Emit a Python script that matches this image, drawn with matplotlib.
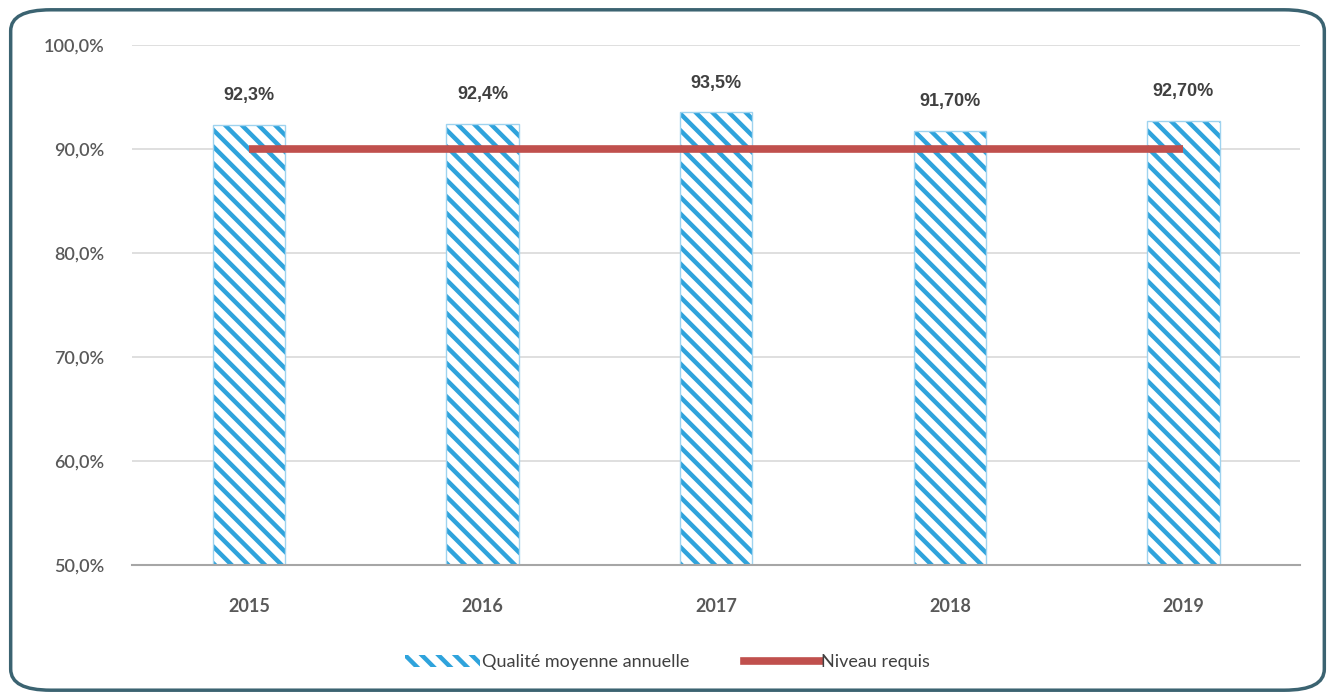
import matplotlib
matplotlib.use("Agg")
import matplotlib.pyplot as plt
from matplotlib.patches import FancyBboxPatch, Patch
from matplotlib.lines import Line2D
from matplotlib.ticker import FuncFormatter

# -----------------------------
# Data
# -----------------------------
years = ["2015", "2016", "2017", "2018", "2019"]
quality = [92.3, 92.4, 93.5, 91.7, 92.7]
quality_labels = ["92,3%", "92,4%", "93,5%", "91,70%", "92,70%"]
required = [90.0, 90.0, 90.0, 90.0, 90.0]

BLUE = "#2fa3dc"
RED = "#c0504d"
TXT = "#595959"

plt.rcParams["font.family"] = ["Lato", "DejaVu Sans"]
plt.rcParams["hatch.linewidth"] = 3.2

fig = plt.figure(figsize=(13.35, 7.0), dpi=100)

# rounded border round the whole chart
border = FancyBboxPatch((0.008, 0.014), 0.984, 0.972,
                        boxstyle="round,pad=0,rounding_size=0.03",
                        transform=fig.transFigure, facecolor="none",
                        edgecolor="#3b6371", linewidth=2.5, zorder=5)
fig.patches.append(border)

ax = fig.add_axes([0.099, 0.193, 0.875, 0.743])
ax.set_facecolor("none")

x = list(range(len(years)))
# hatch follows edgecolor, so draw the stripes with no outline,
# then a thin light outline on top
ax.bar(x, quality, width=0.31, color="white", edgecolor=BLUE,
       linewidth=0, hatch="\\\\", zorder=2)
ax.bar(x, quality, width=0.31, color="none", edgecolor="#9fd3ef",
       linewidth=1.0, zorder=2)

ax.plot(x, required, color=RED, linewidth=5.5, solid_capstyle="butt", zorder=3)

for xi, v, lab in zip(x, quality, quality_labels):
    ax.text(xi, v + 2.0, lab, ha="center", va="bottom", fontsize=13,
            fontweight="bold", color="#404040",
            family=["Liberation Sans Narrow", "Liberation Sans", "DejaVu Sans"])

ax.set_ylim(50, 100)
ax.set_xlim(-0.5, 4.5)
ax.set_yticks([50, 60, 70, 80, 90, 100])
ax.yaxis.set_major_formatter(FuncFormatter(lambda v, p: f"{v:.1f}%".replace(".", ",")))
ax.set_xticks(x)
ax.set_xticklabels(years, fontweight="bold")
ax.tick_params(axis="both", length=0, labelsize=13, colors=TXT)
for lab in ax.get_yticklabels():
    lab.set_fontweight("semibold")
ax.tick_params(axis="y", pad=20)
ax.tick_params(axis="x", pad=24)
ax.grid(axis="y", color="#d9d9d9", linewidth=1.2, zorder=0)
ax.set_axisbelow(True)
for s in ["top", "right", "left"]:
    ax.spines[s].set_visible(False)
ax.spines["bottom"].set_color("#a6a6a6")
ax.spines["bottom"].set_linewidth(1.5)

handles = [Patch(facecolor="white", edgecolor=BLUE, hatch="\\\\", linewidth=0),
           Line2D([0], [0], color=RED, linewidth=5.5)]
fig.legend(handles, ["Qualité moyenne annuelle", "Niveau requis"],
           loc="center", bbox_to_anchor=(0.5, 0.054), ncol=2, frameon=False,
           fontsize=13, handlelength=4.2, handletextpad=0.1, columnspacing=3.0,
           labelcolor="#404040")

fig.savefig("out.png", dpi=100)
